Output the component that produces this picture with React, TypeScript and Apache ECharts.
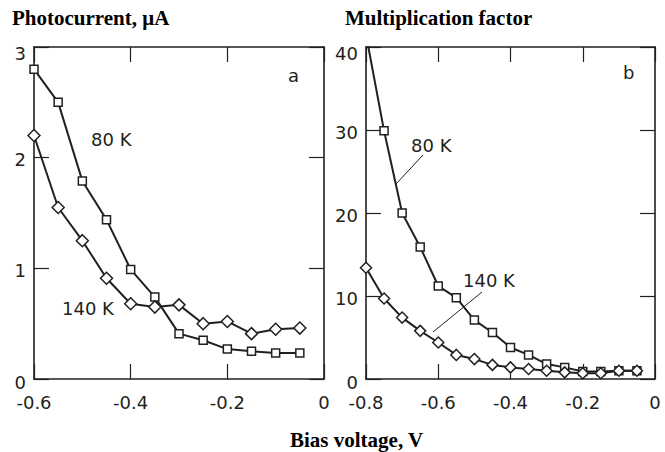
import React, { useEffect, useRef } from "react";
import * as echarts from "echarts";

// Panel a: photocurrent (µA) vs bias voltage (V)
const xLeft = [-0.6, -0.55, -0.5, -0.45, -0.4, -0.35, -0.3, -0.25, -0.2, -0.15, -0.1, -0.05];
const left80K = [2.8, 2.5, 1.79, 1.44, 0.99, 0.74, 0.41, 0.35, 0.27, 0.25, 0.235, 0.235];
const left140K = [2.2, 1.55, 1.25, 0.91, 0.68, 0.65, 0.67, 0.5, 0.52, 0.41, 0.45, 0.46];

// Panel b: multiplication factor vs bias voltage (V)
const xRight = [-0.8, -0.75, -0.7, -0.65, -0.6, -0.55, -0.5, -0.45, -0.4, -0.35, -0.3, -0.25, -0.2, -0.15, -0.1, -0.05];
const right80K = [41.5, 29.9, 20, 15.9, 11.2, 9.8, 7.1, 5.6, 3.8, 2.9, 1.8, 1.4, 0.9, 0.9, 1.0, 1.0];
const right140K = [13.4, 9.7, 7.4, 5.8, 4.4, 2.9, 2.4, 1.7, 1.4, 1.2, 1.0, 0.8, 0.7, 0.7, 1.0, 1.0];

const titles = ["Photocurrent, \u03bcA", "Multiplication factor", "Bias voltage, V"];
const seriesNames = ["80 K", "140 K"];

const INK = "#231f20";
const SANS = "DejaVu Sans";
const SERIF = "Liberation Serif";

function pairs(xs: number[], ys: number[]) {
  return xs.map((x, i) => [x, ys[i]]);
}

function xAx(grid: number, min: number, pos: "bottom" | "top", labels: boolean) {
  return {
    type: "value",
    gridIndex: grid,
    min,
    max: 0,
    interval: 0.2,
    position: pos,
    axisLine: { show: true, onZero: false, lineStyle: { color: INK, width: 1.6 } },
    axisTick: { show: true, inside: true, length: 15, lineStyle: { color: INK, width: 1.2 } },
    axisLabel: { show: labels, margin: 14, fontSize: 18, fontFamily: SANS, color: INK },
    splitLine: { show: false },
  };
}

function yAx(grid: number, max: number, interval: number, pos: "left" | "right", labels: boolean) {
  const base = { fontSize: 18, fontFamily: SANS, color: INK };
  return {
    type: "value",
    gridIndex: grid,
    min: 0,
    max,
    interval,
    position: pos,
    axisLine: { show: true, onZero: false, lineStyle: { color: INK, width: 1.6 } },
    axisTick: { show: true, inside: true, length: 15, lineStyle: { color: INK, width: 1.2 } },
    axisLabel: {
      show: labels,
      margin: 8,
      ...base,
      formatter: (v: number) => (v === max ? `{t|${v}}` : v === 0 ? `{b|${v}}` : `{m|${v}}`),
      rich: {
        t: { ...base, padding: [12, 0, 0, 0] },
        b: { ...base, padding: [7, 0, 0, 0] },
        m: { ...base, padding: [4, 0, 0, 0] },
      },
    },
    splitLine: { show: false },
  };
}

function lineSeries(name: string, data: number[][], xi: number, yi: number, symbol: string, size: number) {
  return {
    type: "line",
    name,
    data,
    xAxisIndex: xi,
    yAxisIndex: yi,
    symbol,
    symbolSize: size,
    showAllSymbol: true,
    clip: true,
    lineStyle: { color: INK, width: 2 },
    itemStyle: { color: "#ffffff", borderColor: INK, borderWidth: 1.5 },
    emphasis: { disabled: true },
  };
}

function txt(text: string, x: number, y: number, size = 18, font = SANS, weight = "normal") {
  return {
    type: "text",
    x,
    y,
    style: {
      text,
      fill: INK,
      font: `${weight} ${size}px "${font}"`,
      verticalAlign: "middle",
      align: "left",
    },
  };
}

function leader(x1: number, y1: number, x2: number, y2: number) {
  return {
    type: "line",
    shape: { x1, y1, x2, y2 },
    style: { stroke: INK, lineWidth: 1 },
  };
}

const titleStyle = { fontFamily: SERIF, fontWeight: "bold", fontSize: 21, color: "#000" };

export default function App() {
  const ref = useRef<HTMLDivElement>(null);
  useEffect(() => {
    if (!ref.current) return;
    const chart = echarts.init(ref.current, undefined, { renderer: "svg" });
    chart.setOption({
      animation: false,
      backgroundColor: "#ffffff",
      title: [
        { text: titles[0], left: 12, top: 7, padding: 0, textStyle: titleStyle },
        { text: titles[1], left: 345, top: 7, padding: 0, textStyle: titleStyle },
        { text: titles[2], left: 290, top: 429, padding: 0, textStyle: titleStyle },
      ],
      grid: [
        { left: 34, top: 47, width: 290, height: 332 },
        { left: 366, top: 47, width: 289, height: 332 },
      ],
      xAxis: [
        xAx(0, -0.6, "bottom", true),
        xAx(0, -0.6, "top", false),
        xAx(1, -0.8, "bottom", true),
        xAx(1, -0.8, "top", false),
      ],
      yAxis: [
        yAx(0, 3, 1, "left", true),
        yAx(0, 3, 1, "right", false),
        yAx(1, 40, 10, "left", true),
        yAx(1, 40, 10, "right", false),
      ],
      series: [
        lineSeries(seriesNames[0], pairs(xLeft, left80K), 0, 0, "rect", 8),
        lineSeries(seriesNames[1], pairs(xLeft, left140K), 0, 0, "diamond", 12),
        lineSeries(seriesNames[0], pairs(xRight, right80K), 2, 2, "rect", 8),
        lineSeries(seriesNames[1], pairs(xRight, right140K), 2, 2, "diamond", 11),
      ],
      graphic: [
        txt(seriesNames[0], 91, 139),
        txt(seriesNames[1], 62, 308),
        txt("a", 288, 75),
        txt(seriesNames[0], 411, 145),
        txt(seriesNames[1], 463, 280),
        txt("b", 623, 72),
        leader(423, 155, 396, 184),
        leader(482, 292, 433, 332),
      ],
    });
    return () => chart.dispose();
  }, []);
  return (
    <div
      ref={ref}
      style={{ position: "fixed", left: 0, top: 0, width: 665, height: 452, background: "#fff" }}
    />
  );
}
